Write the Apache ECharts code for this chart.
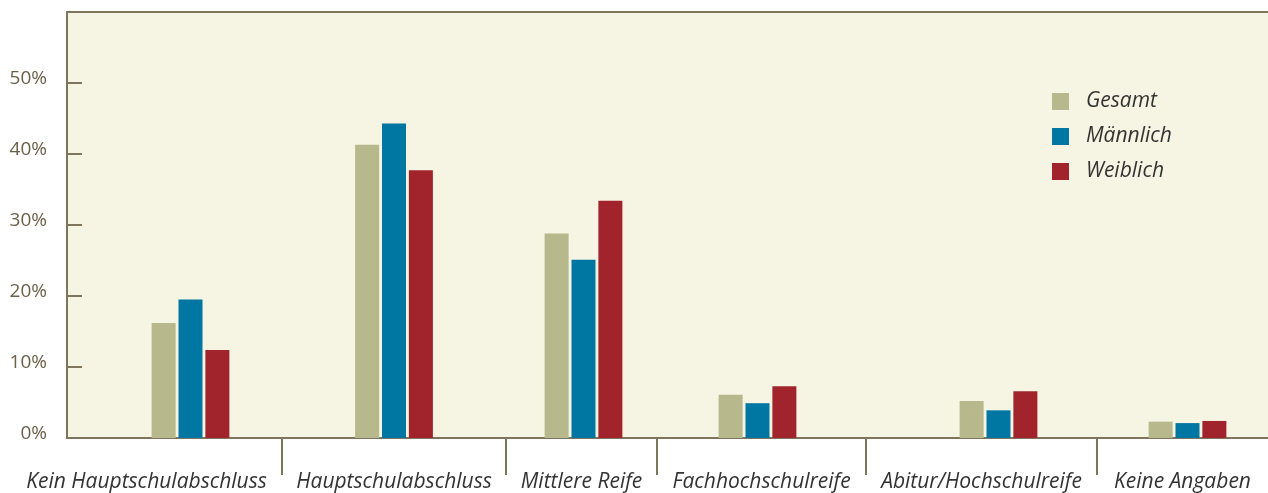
<!DOCTYPE html>
<html><head><meta charset="utf-8">
<script src="https://cdn.jsdelivr.net/npm/echarts@6/dist/echarts.min.js"></script>
<style>html,body{margin:0;padding:0;background:#fff}#c{width:1268px;height:493px}</style>
</head><body><div id="c"></div>
<script>
// ---- data ----
const categories = ['Kein Hauptschulabschluss','Hauptschulabschluss','Mittlere Reife','Fachhochschulreife','Abitur/Hochschulreife','Keine Angaben'];
const seriesNames = ['Gesamt','Männlich','Weiblich'];
const gesamt   = [16.2, 41.3, 28.8, 6.1, 5.2, 2.3];
const maennlich= [19.5, 44.3, 25.1, 4.9, 3.9, 2.1];
const weiblich = [12.4, 37.7, 33.4, 7.3, 6.6, 2.4];
const yTicks = [0, 10, 20, 30, 40, 50];

// ---- layout (relative category slot widths and bar-group shifts, as in the reference) ----
const slotWidths = [215, 224, 151, 209, 231, 171];
const groupShift = [16, 0, 2, -4, 17, 5];
const bounds = [0];
slotWidths.forEach(w => bounds.push(bounds[bounds.length-1] + w));
const total = bounds[bounds.length-1];
const centers = slotWidths.map((w,i) => bounds[i] + w/2);
const barCenters = centers.map((c,i) => c + groupShift[i]);

const colors = ['#b7b88c', '#0076a3', '#a1232b'];
const values = [gesamt, maennlich, weiblich];
const axisColor = '#7f745c';
const font = '"Open Sans", "Noto Sans", sans-serif';

const chart = echarts.init(document.getElementById('c'), null, {renderer:'canvas'});
chart.setOption({
  backgroundColor: '#ffffff',
  animation: false,
  grid: { left: 67, right: 0, top: 12, bottom: 55, show: true, backgroundColor: '#f6f4e2', borderWidth: 0,
          containLabel: false, outerBoundsMode: 'none' },
  legend: {
    orient: 'vertical', left: 1052, top: 91, padding: 0,
    itemWidth: 17, itemHeight: 17, itemGap: 14,
    icon: 'rect',
    textStyle: { fontFamily: font, fontStyle: 'italic', fontSize: 21, color: '#333333', padding: [0,0,0,12] },
    data: seriesNames
  },
  xAxis: [{
    type: 'value', min: 0, max: total,
    axisLine: { show: true, lineStyle: { color: axisColor, width: 2 } },
    axisTick: { show: true, customValues: bounds.slice(1, -1), length: 37, lineStyle: { color: axisColor, width: 2 } },
    axisLabel: {
      customValues: centers,
      margin: 34,
      fontFamily: font, fontStyle: 'italic', fontSize: 21, color: '#333333',
      formatter: function (v) {
        let idx = 0, best = Infinity;
        centers.forEach((c,i) => { if (Math.abs(c-v) < best) { best = Math.abs(c-v); idx = i; } });
        return idx === 0 ? '{first|' + categories[idx] + '}' : categories[idx];
      },
      rich: { first: { fontFamily: font, fontStyle: 'italic', fontSize: 21, color: '#333333', padding: [0, 56, 0, 0] } }
    },
    splitLine: { show: false }
  }, {
    type: 'value', min: 0, max: total, position: 'top',
    axisLine: { show: true, lineStyle: { color: axisColor, width: 2 } },
    axisTick: { show: false }, axisLabel: { show: false }, splitLine: { show: false }
  }],
  yAxis: {
    type: 'value', min: 0, max: 60, interval: 10,
    axisLine: { show: true, lineStyle: { color: axisColor, width: 2 } },
    axisTick: { show: true, inside: true, length: 15, lineStyle: { color: axisColor, width: 2 } },
    axisLabel: {
      margin: 20, fontFamily: font, fontSize: 19, color: '#6b5f48',
      verticalAlign: 'bottom', lineHeight: 8,
      formatter: v => yTicks.indexOf(v) >= 0 ? v + '%' : ''
    },
    splitLine: { show: false }
  },
  series: seriesNames.map((name, s) => ({
    name, type: 'bar', xAxisIndex: 0,
    barWidth: 24, barGap: '12%',
    itemStyle: { color: colors[s] },
    data: values[s].map((v, i) => [barCenters[i], v])
  }))
});
</script></body></html>
